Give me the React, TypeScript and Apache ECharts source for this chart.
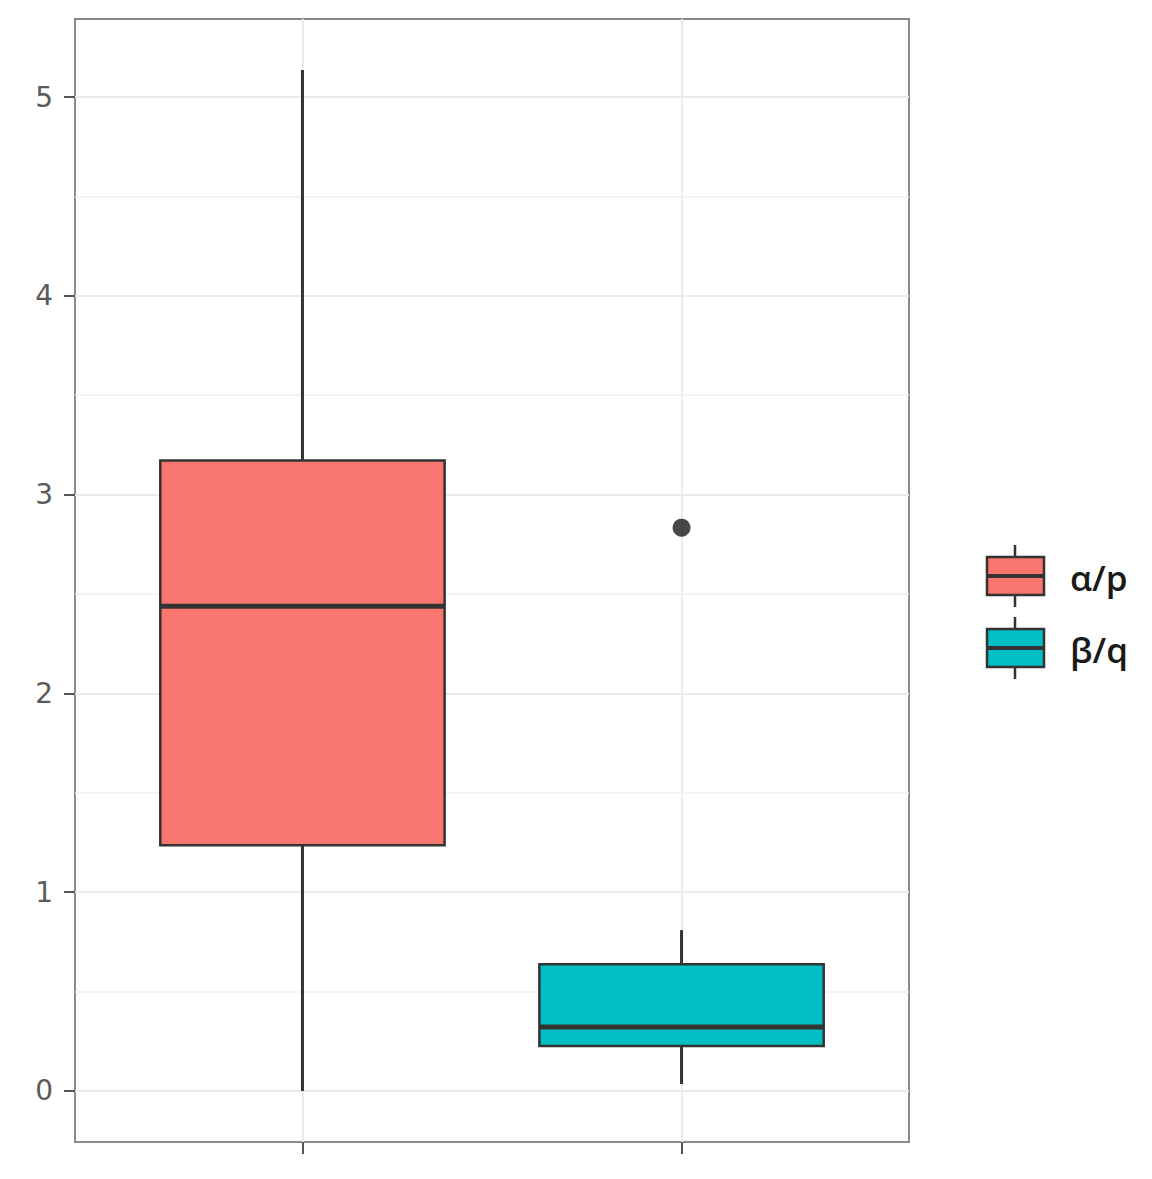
import React, { useEffect, useRef } from "react";
import * as echarts from "echarts";

// ---- data ----
const groups = ["α/p", "β/q"];
const groupX = [1, 2];
const mins = [0, 0.035];
const q1s = [1.236, 0.226];
const medians = [2.439, 0.322];
const q3s = [3.172, 0.638];
const maxs = [5.136, 0.809];
const outliers: [number, number][] = [[2, 2.834]];
const fillColors = ["#F8766D", "#00BFC4"];
const yTicks = [0, 1, 2, 3, 4, 5];
const yMinorTicks = [0.5, 1.5, 2.5, 3.5, 4.5];

export default function App() {
  const ref = useRef<HTMLDivElement>(null);
  useEffect(() => {
    if (!ref.current) return;
    const chart = echarts.init(ref.current, null, { renderer: "svg" });
    const boxData = groupX.map((x, i) => [x, mins[i], q1s[i], medians[i], q3s[i], maxs[i]]);
    const lineC = "#333333";
    const legendItems = groups.map((g, i) => {
      const cy = 576 + i * 72;
      return {
        type: "group",
        children: [
          { type: "line", shape: { x1: 1015, y1: cy - 31, x2: 1015, y2: cy + 31 }, style: { stroke: lineC, lineWidth: 2.5 } },
          { type: "rect", shape: { x: 987, y: cy - 19, width: 57, height: 38 }, style: { fill: fillColors[i], stroke: lineC, lineWidth: 2.5 } },
          { type: "line", shape: { x1: 987, y1: cy, x2: 1044, y2: cy }, style: { stroke: lineC, lineWidth: 4 } },
          {
            type: "text",
            x: 1070,
            y: cy + 1,
            style: { text: g, font: "600 35px 'Open Sans'", fill: "#1a1a1a", textVerticalAlign: "middle", verticalAlign: "middle" },
          },
        ],
      };
    });
    chart.setOption({
      animation: false,
      backgroundColor: "#ffffff",
      grid: { left: 75, top: 19, width: 834, height: 1123, show: true, borderColor: "#8a8a8a", borderWidth: 2, backgroundColor: "transparent" },
      xAxis: {
        type: "value",
        min: 0.4,
        max: 2.6,
        axisLine: { show: false, onZero: false },
        axisTick: { show: true, customValues: groupX, length: 12, lineStyle: { color: "#555", width: 2 } },
        axisLabel: { show: false, customValues: groupX },
        splitLine: { show: true, lineStyle: { color: "#ebebeb", width: 2 } },
      },
      yAxis: {
        type: "value",
        min: -0.2568,
        max: 5.3928,
        axisLine: { show: false, onZero: false },
        axisTick: { show: true, customValues: yTicks, length: 11, lineStyle: { color: "#555", width: 2 } },
        axisLabel: { customValues: yTicks, margin: 22, fontSize: 28, color: "#5a5a5a", fontFamily: "DejaVu Sans" },
        splitLine: { show: true, lineStyle: { color: "#ebebeb", width: 2 } },
      },
      series: [
        {
          type: "line",
          data: [],
          z: 1,
          silent: true,
          markLine: {
            z: 1,
            silent: true,
            symbol: ["none", "none"],
            label: { show: false },
            lineStyle: { color: "#f0f0f0", width: 1.5, type: "solid" },
            data: yMinorTicks.map((v) => ({ yAxis: v })),
          },
        },
        {
          type: "custom",
          z: 5,
          data: boxData,
          encode: { x: 0, y: [1, 2, 3, 4, 5] },
          renderItem: (params: any, api: any) => {
            const x = api.value(0);
            const pMin = api.coord([x, api.value(1)]);
            const pQ1 = api.coord([x, api.value(2)]);
            const pMed = api.coord([x, api.value(3)]);
            const pQ3 = api.coord([x, api.value(4)]);
            const pMax = api.coord([x, api.value(5)]);
            const w = api.size([0.75, 0])[0];
            const color = fillColors[params.dataIndex];
            return {
              type: "group",
              children: [
                { type: "line", shape: { x1: pMax[0], y1: pMax[1], x2: pQ3[0], y2: pQ3[1] }, style: { stroke: lineC, lineWidth: 3 } },
                { type: "line", shape: { x1: pQ1[0], y1: pQ1[1], x2: pMin[0], y2: pMin[1] }, style: { stroke: lineC, lineWidth: 3 } },
                { type: "rect", shape: { x: pQ3[0] - w / 2, y: pQ3[1], width: w, height: pQ1[1] - pQ3[1] }, style: { fill: color, stroke: lineC, lineWidth: 2.5 } },
                { type: "line", shape: { x1: pMed[0] - w / 2, y1: pMed[1], x2: pMed[0] + w / 2, y2: pMed[1] }, style: { stroke: lineC, lineWidth: 5 } },
              ],
            };
          },
        },
        {
          type: "scatter",
          z: 6,
          data: outliers,
          symbol: "circle",
          symbolSize: 18,
          itemStyle: { color: "#1a1a1a" },
        },
      ],
      graphic: legendItems,
    });
    return () => chart.dispose();
  }, []);
  return <div ref={ref} style={{ position: "absolute", left: 0, top: 0, width: 1152, height: 1179 }} />;
}
